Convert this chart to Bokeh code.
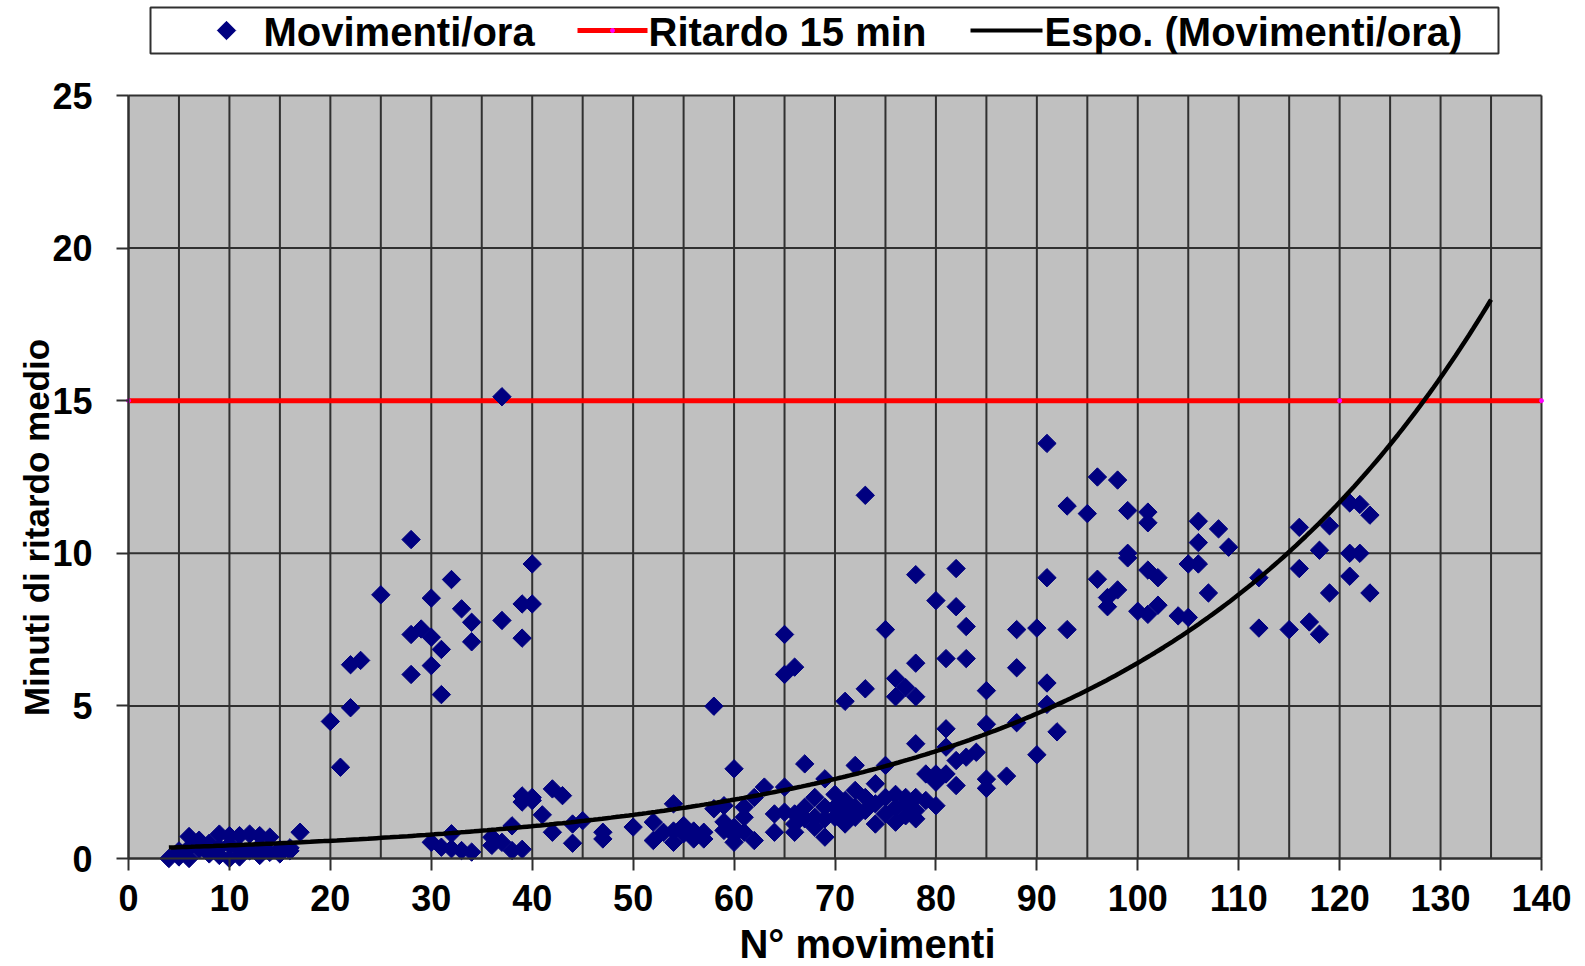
import numpy as np
from bokeh.plotting import figure
from bokeh.models import Range1d, FixedTicker, LinearAxis
from bokeh.embed import file_html
from bokeh.resources import INLINE
from bokeh.core.properties import value

FONT = "Liberation Sans"
NAVY = "#000080"
GRID = "#303030"

# Hourly movements (x) and mean delay in minutes (y)
movimenti = [
    4, 5, 5, 6, 6, 6, 7, 7, 8, 8, 9, 9, 9, 10, 10, 10, 11, 11, 11, 12, 12,
    13, 13, 13, 14, 14, 15, 15, 16, 16, 17,
    20, 21, 22, 22, 23, 25, 28, 28, 28, 29, 30, 30, 30, 31, 31, 32, 33, 34,
    34, 37, 37, 39, 39, 40, 40,
    30, 31, 32, 32, 33, 34, 36, 36, 37, 38, 38, 39, 39, 39, 40, 40, 41, 42,
    42, 43, 44, 44, 45,
    47, 47, 50, 52, 52, 53, 54, 54, 54, 55, 55, 56, 56, 57, 57, 58, 58, 59,
    59, 60, 59, 60, 61, 61, 61, 62, 60, 60, 63, 62, 64, 64,
    65, 65, 66, 66, 66, 67, 67, 67, 68, 68, 68, 69, 69, 69, 69, 70, 70, 70,
    71, 71, 71, 72, 72, 72, 72, 73, 73, 74, 74, 74, 75, 75, 75, 76, 76, 76,
    77, 77, 77, 78, 78, 78, 79, 79, 80, 80, 80, 78, 81, 81, 82, 83, 84, 82,
    81, 85, 85, 85, 85,
    65, 66, 65, 71, 73, 73, 75, 76, 77, 76, 78, 78, 78, 80, 82, 82, 83, 81, 83,
    87, 88, 88, 88, 90, 90, 91, 91, 91, 91, 92, 93, 93, 95, 96, 96, 97, 97,
    98, 98, 99, 99, 99, 100, 101, 101, 101, 101, 102, 102, 104, 105, 105,
    106, 106, 106, 107, 108, 109, 112, 112, 115, 116, 116, 117, 118, 118,
    119, 119, 121, 122, 123, 121, 122, 121, 123,
]
ritardo = [
    0.0, 0.05, 0.25, 0.0, 0.35, 0.72, 0.6, 0.3, 0.5, 0.15, 0.8, 0.1, 0.35,
    0.75, 0.0, 0.45, 0.75, 0.05, 0.3, 0.8, 0.25, 0.75, 0.1, 0.4, 0.7, 0.2,
    0.3, 0.15, 0.35, 0.25, 0.86,
    4.49, 2.99, 6.35, 4.94, 6.49, 8.64, 10.45, 7.34, 6.03, 7.52, 8.53, 7.25,
    6.32, 6.85, 5.37, 9.14, 8.18, 7.74, 7.1, 7.8, 15.13, 8.34, 7.22, 8.34,
    9.65,
    0.53, 0.37, 0.81, 0.32, 0.26, 0.21, 0.7, 0.43, 0.53, 1.07, 0.26, 0.3,
    2.05, 1.85, 2.0, 1.9, 1.43, 2.28, 0.86, 2.06, 0.5, 1.13, 1.24,
    0.86, 0.64, 1.03, 0.59, 1.19, 0.86, 1.79, 0.9, 0.53, 0.81, 1.08, 0.9,
    0.64, 0.86, 0.64, 4.99, 1.63, 1.73, 1.2, 1.02, 0.92, 0.76, 0.86, 1.35,
    1.68, 0.59, 0.53, 2.94, 2.34, 2.0, 0.86, 1.46,
    2.34, 1.52, 1.46, 1.13, 0.86, 1.68, 1.3, 3.1, 2.0, 1.35, 1.02, 2.61,
    1.68, 1.3, 0.7, 2.1, 1.68, 1.35, 1.9, 1.46, 1.13, 3.05, 2.23, 1.68,
    1.35, 2.0, 1.57, 2.45, 1.79, 1.13, 3.05, 2.0, 1.46, 2.1, 1.68, 1.19,
    2.0, 1.79, 1.4, 2.0, 1.57, 1.3, 2.77, 1.9, 2.5, 2.77, 1.73, 3.76, 3.65,
    2.77, 3.21, 3.32, 3.48, 2.39, 4.25, 2.6, 2.3, 4.4, 5.5,
    6.03, 6.27, 7.34, 5.15, 5.56, 11.9, 7.5, 5.9, 5.6, 5.3, 5.3, 6.4, 9.3,
    8.45, 9.5, 8.25, 7.6, 6.55, 6.55,
    2.7, 4.45, 6.25, 7.5, 7.55, 3.4, 5.05, 5.75, 9.2, 13.6, 4.15, 7.5,
    11.55, 11.3, 12.5, 9.15, 8.25, 8.55, 8.8, 12.4, 11.4, 10.0, 9.85, 8.1,
    11.35, 11.0, 9.45, 8.0, 9.2, 8.3, 7.95, 7.9, 9.65, 9.65, 10.35, 11.05,
    8.7, 10.8, 10.2, 9.2, 7.55, 7.5, 9.5, 10.85, 7.75, 7.35, 10.1, 8.7,
    10.9, 11.65, 11.6, 11.25, 10.0, 10.0, 9.25, 8.7,
]

# 15-minute delay threshold series
soglia_x = [0, 120, 140]
soglia_y = [15, 15, 15]

# Exponential trend y = a * exp(b * x), drawn over the data span plus forecast
fit_a = 0.319
fit_b = 0.0300
fit_x_start = 4
fit_x_end = 135

X_MIN, X_MAX = 0, 140
Y_MIN, Y_MAX = 0, 25
x_ticks = list(range(X_MIN, X_MAX + 1, 10))
x_grid = list(range(X_MIN, X_MAX + 1, 5))
y_ticks = list(range(Y_MIN, Y_MAX + 1, 5))

legend_labels = ["Movimenti/ora", "Ritardo 15 min", "Espo. (Movimenti/ora)"]
x_title = "N° movimenti"
y_title = "Minuti di ritardo medio"

# page geometry (pixels): the plot frame covers the whole page, the grey
# area spans page columns 128..1541 and rows 95..858
W, H = 1585, 966
AREA_L, AREA_R = 128, 1541
AREA_T, AREA_B = 95, 858
PPU_X = (AREA_R - AREA_L) / (X_MAX - X_MIN)
PPU_Y = (AREA_B - AREA_T) / (Y_MAX - Y_MIN)


def px(col):
    """page column -> x data value"""
    return X_MIN + (col - AREA_L) / PPU_X


def py(row):
    """page row -> y data value"""
    return Y_MIN + (AREA_B - row) / PPU_Y


p = figure(width=W, height=H,
           x_range=Range1d(px(0), px(W)), y_range=Range1d(py(H), py(0)),
           toolbar_location=None, output_backend="svg",
           min_border=0, min_border_left=0, min_border_right=0,
           min_border_top=0, min_border_bottom=0,
           x_axis_location=None, y_axis_location=None, outline_line_color=None)
p.grid.visible = False

# grey plot area with its grid
p.quad(left=[X_MIN], right=[X_MAX], bottom=[Y_MIN], top=[Y_MAX],
       fill_color="#c0c0c0", line_color=None)
p.segment(x0=x_grid, y0=[Y_MIN] * len(x_grid), x1=x_grid, y1=[Y_MAX] * len(x_grid),
          line_color=GRID, line_width=2)
p.segment(x0=[X_MIN] * len(y_ticks), y0=y_ticks, x1=[X_MAX] * len(y_ticks), y1=y_ticks,
          line_color=GRID, line_width=2)

# axes pinned to the data origin
xaxis = LinearAxis(fixed_location=Y_MIN, ticker=FixedTicker(ticks=x_ticks), bounds=(X_MIN, X_MAX))
yaxis = LinearAxis(fixed_location=X_MIN, ticker=FixedTicker(ticks=y_ticks), bounds=(Y_MIN, Y_MAX))
p.add_layout(xaxis, "below")
p.add_layout(yaxis, "left")

for ax in (xaxis, yaxis):
    ax.major_tick_out = 12
    ax.major_tick_in = 0
    ax.minor_tick_out = 0
    ax.minor_tick_in = 0
    ax.axis_line_color = GRID
    ax.axis_line_width = 2
    ax.major_tick_line_color = GRID
    ax.major_tick_line_width = 2
    ax.major_label_text_font = FONT
    ax.major_label_text_font_size = "36px"
    ax.major_label_text_font_style = "bold"
    ax.major_label_text_color = "black"
yaxis.major_label_standoff = 24
xaxis.major_label_standoff = 14

# series
p.line(soglia_x, soglia_y, line_color="#ff0000", line_width=5)
p.scatter(soglia_x, soglia_y, marker="circle", size=4, fill_color="#ff00ff", line_color="#ff00ff")

p.scatter(movimenti, ritardo, marker="square", angle=np.pi / 4, size=13,
          fill_color=NAVY, line_color=NAVY)

fit_x = np.linspace(fit_x_start, fit_x_end, 300)
fit_y = fit_a * np.exp(fit_b * fit_x)
p.line(fit_x, fit_y, line_color="black", line_width=4.5)

# axis titles
p.text(x=[px(867)], y=[py(943)], text=[x_title], text_font=value(FONT),
       text_font_style="bold", text_font_size="40px",
       text_align="center", text_baseline="middle", text_color="black")
p.text(x=[px(36)], y=[py(527)], text=[y_title], angle=np.pi / 2, text_font=value(FONT),
       text_font_style="bold", text_font_size="35px",
       text_align="center", text_baseline="middle", text_color="black")

# legend box above the plot area
leg_y = py(30)
p.quad(left=[px(150)], right=[px(1498)], top=[py(7)], bottom=[py(53)], fill_color="white",
       line_color=GRID, line_width=2)
p.scatter(x=[px(226)], y=[leg_y], marker="square", angle=np.pi / 4, size=13,
          fill_color=NAVY, line_color=NAVY)
p.segment(x0=[px(577)], y0=[leg_y], x1=[px(647)], y1=[leg_y], line_color="#ff0000", line_width=5)
p.scatter(x=[px(612)], y=[leg_y], marker="circle", size=4, fill_color="#ff00ff", line_color="#ff00ff")
p.segment(x0=[px(970)], y0=[leg_y], x1=[px(1042)], y1=[leg_y], line_color="black", line_width=4)
p.text(x=[px(263), px(648), px(1044)], y=[py(31)] * 3, text=legend_labels,
       text_font=value(FONT), text_font_style="bold", text_font_size="40px",
       text_baseline="middle", text_color="black")

open("out.html", "w").write(file_html(p, INLINE))
